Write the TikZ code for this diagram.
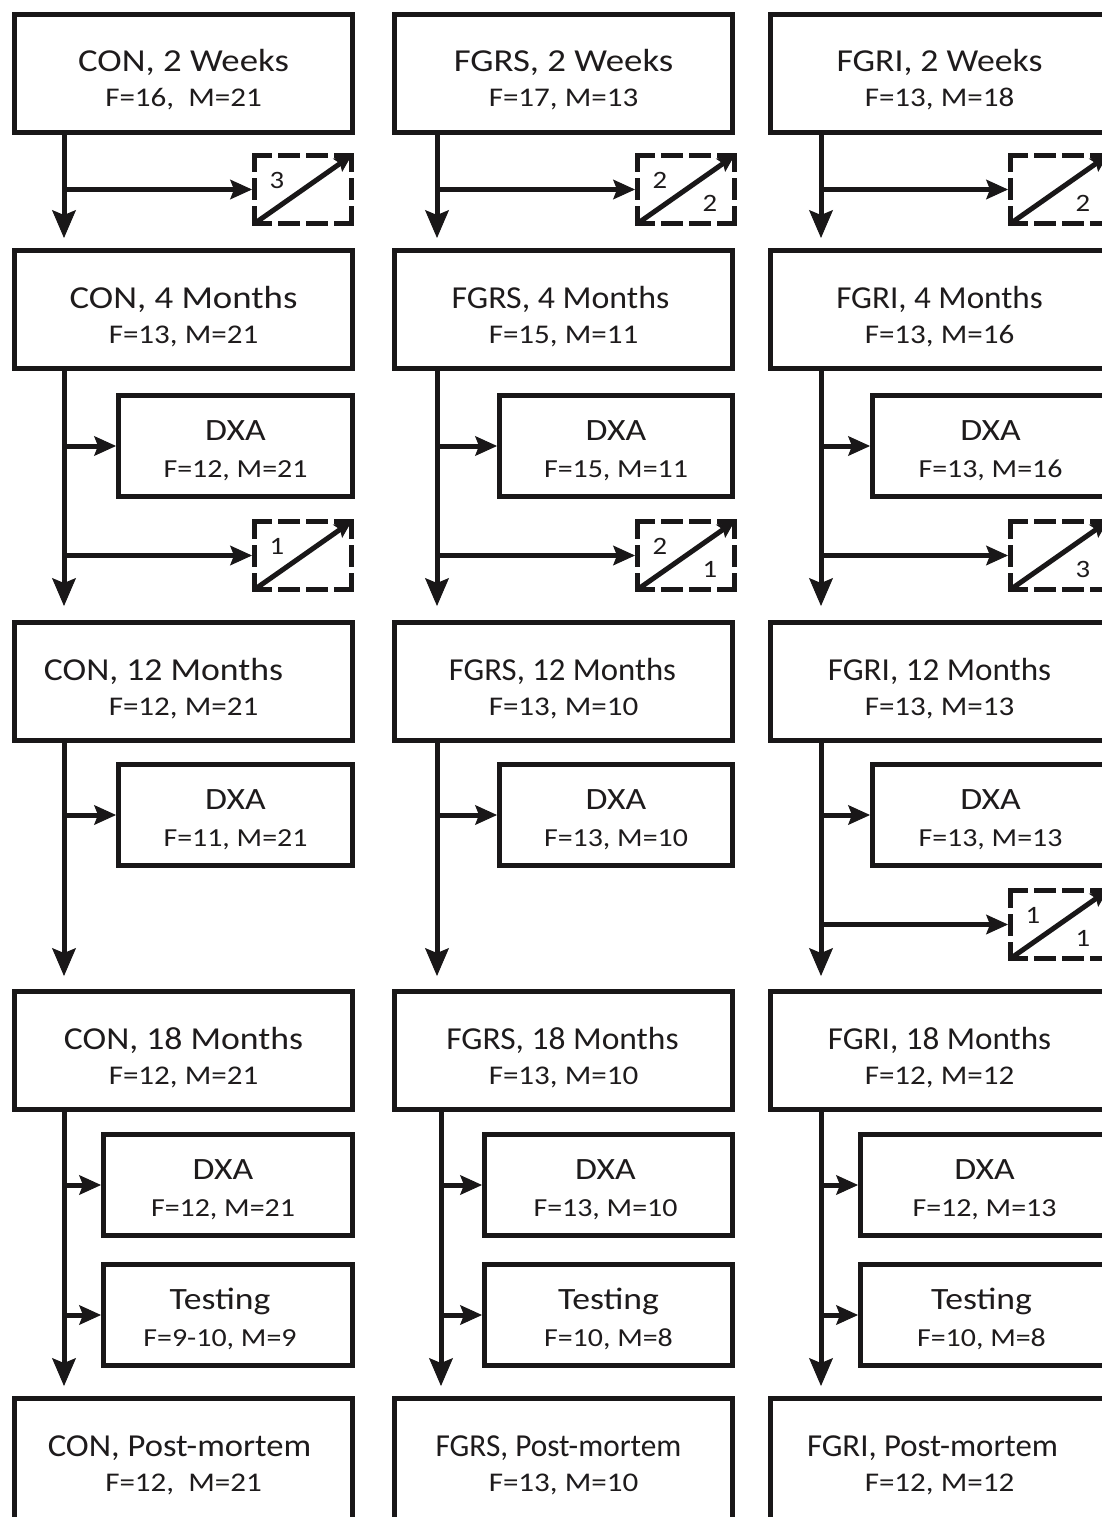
\documentclass[tikz,border=0pt]{standalone}
\usepackage{fontspec}
\usepackage{graphicx}
\setmainfont{Carlito}[FakeStretch=1.15]
\usetikzlibrary{arrows.meta}
\definecolor{txt}{RGB}{30,27,28}
\definecolor{ln}{RGB}{25,23,24}
\tikzset{
  mainbox/.style={draw=ln, line width=5pt, rectangle, minimum width=338pt, minimum height=118pt, inner sep=0pt, anchor=north west},
  tallbox/.style={mainbox, minimum height=160pt},
  subbox/.style={draw=ln, line width=5pt, rectangle, minimum height=101pt, inner sep=0pt, anchor=north west},
  dbox/.style={rectangle, minimum width=97pt, minimum height=68pt, inner sep=0pt, outer sep=2.5pt, anchor=north west},
  dh/.style={draw=ln, line width=5pt, line cap=rect, dash pattern=on 15pt off 11pt on 17pt off 11pt on 17pt off 11pt on 15pt off 200pt},
  dv/.style={draw=ln, line width=5pt, line cap=rect, dash pattern=on 14.5pt off 11pt on 17pt off 11pt on 14.5pt off 200pt},
  ttl/.style={font=\fontsize{32}{36}\selectfont, inner sep=0pt, anchor=base, text=txt},
  sbt/.style={font=\fontsize{27}{30}\selectfont, inner sep=0pt, anchor=base, text=txt},
  dtl/.style={font=\fontsize{31}{34}\selectfont, inner sep=0pt, anchor=base, text=txt},
  dsb/.style={font=\fontsize{26}{30}\selectfont, inner sep=0pt, anchor=base, text=txt},
  num/.style={font=\fontsize{25}{28}\selectfont, inner sep=0pt, text=txt},
  varr/.style={draw=ln, line width=5pt, -{Stealth[length=28pt,width=24pt,inset=5pt,line width=1pt]}},
  harr/.style={draw=ln, line width=5pt, -{Stealth[length=22pt,width=20pt,inset=4pt,line width=1pt]}},
  diag/.style={draw=ln, line width=5pt, -{Stealth[length=17pt,width=16pt,inset=3pt,line width=1pt]}},
}
\newcommand{\MBox}[8]{% name, left, top, title, sub, style, title x-scale, title x-shift
  \node[#6] (#1) at (#2,#3) {};
  \node[ttl] (#1t) at (#2+171.5+#8,#3+60) {\scalebox{#7}[1]{#4}};
  \node[sbt] (#1s) at (#2+171.5,#3+95) {#5};}
\newcommand{\SBox}[7]{% name, left, top, outer width, title, sub, text x-shift
  \node[subbox, minimum width=#4pt-5pt] (#1) at (#2,#3) {};
  \node[dtl] (#1t) at (#2+#4/2+#7,#3+47) {#5};
  \node[dsb] (#1s) at (#2+#4/2+#7,#3+84) {#6};}
\newcommand{\DBox}[3]{%
  \node[dbox] (#1) at (#2,#3) {};
  \coordinate (#1nw) at ([xshift=2.5pt,yshift=-2.5pt]#1.north west);
  \coordinate (#1ne) at ([xshift=-2.5pt,yshift=-2.5pt]#1.north east);
  \coordinate (#1sw) at ([xshift=2.5pt,yshift=2.5pt]#1.south west);
  \coordinate (#1se) at ([xshift=-2.5pt,yshift=2.5pt]#1.south east);
  \draw[dh] (#1nw) -- (#1ne);
  \draw[dh] (#1sw) -- (#1se);
  \draw[dv] (#1nw) -- (#1sw);
  \draw[dv] (#1ne) -- (#1se);
  \draw[diag] (#1sw) -- (#1ne);}
\newcommand{\NumTL}[2]{\node[num] (#1tl) at ([xshift=25pt,yshift=-27pt]#1.north west) {#2};}
\newcommand{\NumBR}[2]{\node[num] (#1br) at ([xshift=-27pt,yshift=23pt]#1.south east) {#2};}
\begin{document}
\begin{tikzpicture}[x=1pt,y=-1pt]
\useasboundingbox (0,0) rectangle (1102,1517);
\clip (0,0) rectangle (1102,1517);
\fill[white] (0,0) rectangle (1102,1517);
% ---------------- column 1 : CON ----------------
\MBox{a1}{12}{12}{CON, 2 Weeks}{F=16,\ \ M=21}{mainbox}{1}{0}
\MBox{a2}{12}{248}{CON, 4 Months}{F=13, M=21}{mainbox}{1}{0}
\MBox{a3}{12}{620}{CON, 12 Months}{F=12, M=21}{mainbox}{0.97}{-20}
\MBox{a4}{12}{989}{CON, 18 Months}{F=12, M=21}{mainbox}{0.97}{0}
\MBox{a5}{12}{1396}{CON, Post-mortem}{F=12,\ \ M=21}{tallbox}{0.94}{-4}
\SBox{ad2}{116}{393}{239}{DXA}{F=12, M=21}{0}
\SBox{ad3}{116}{762}{239}{DXA}{F=11, M=21}{0}
\SBox{ad4}{101}{1132}{254}{DXA}{F=12, M=21}{-5}
\SBox{at4}{101}{1262}{254}{Testing}{F=9-10, M=9}{-8}
\DBox{ax1}{252}{153}
\NumTL{ax1}{3}
\DBox{ax2}{252}{519}
\NumTL{ax2}{1}
% ---------------- column 2 : FGRS ----------------
\MBox{b1}{392}{12}{FGRS, 2 Weeks}{F=17, M=13}{mainbox}{1}{0}
\MBox{b2}{392}{248}{FGRS, 4 Months}{F=15, M=11}{mainbox}{0.92}{-3}
\MBox{b3}{392}{620}{FGRS, 12 Months}{F=13, M=10}{mainbox}{0.89}{-1}
\MBox{b4}{392}{989}{FGRS, 18 Months}{F=13, M=10}{mainbox}{0.91}{-1}
\MBox{b5}{392}{1396}{FGRS, Post-mortem}{F=13, M=10}{tallbox}{0.85}{-5}
\SBox{bd2}{497}{393}{238}{DXA}{F=15, M=11}{0}
\SBox{bd3}{497}{762}{238}{DXA}{F=13, M=10}{0}
\SBox{bd4}{482}{1132}{253}{DXA}{F=13, M=10}{-3}
\SBox{bt4}{482}{1262}{253}{Testing}{F=10, M=8}{0}
\DBox{bx1}{635}{153}
\NumTL{bx1}{2}
\NumBR{bx1}{2}
\DBox{bx2}{635}{519}
\NumTL{bx2}{2}
\NumBR{bx2}{1}
% ---------------- column 3 : FGRI ----------------
\MBox{c1}{768}{12}{FGRI, 2 Weeks}{F=13, M=18}{mainbox}{0.97}{0}
\MBox{c2}{768}{248}{FGRI, 4 Months}{F=13, M=16}{mainbox}{0.90}{0}
\MBox{c3}{768}{620}{FGRI, 12 Months}{F=13, M=13}{mainbox}{0.90}{0}
\MBox{c4}{768}{989}{FGRI, 18 Months}{F=12, M=12}{mainbox}{0.90}{0}
\MBox{c5}{768}{1396}{FGRI, Post-mortem}{F=12, M=12}{tallbox}{0.89}{-7}
\SBox{cd2}{870}{393}{241}{DXA}{F=13, M=16}{0}
\SBox{cd3}{870}{762}{241}{DXA}{F=13, M=13}{0}
\SBox{cd4}{858}{1132}{253}{DXA}{F=12, M=13}{0}
\SBox{ct4}{858}{1262}{253}{Testing}{F=10, M=8}{-3}
\DBox{cx1}{1008}{153}
\NumBR{cx1}{2}
\DBox{cx2}{1008}{519}
\NumBR{cx2}{3}
\DBox{cx3}{1008}{888}
\NumTL{cx3}{1}
\NumBR{cx3}{1}
% ---------------- vertical lines ----------------
\coordinate (av) at (64,0);
\coordinate (bv) at (437,0);
\coordinate (bw) at (441,0);
\coordinate (cv) at (821,0);
% column 1
\draw[varr, shorten >=10pt] (a1.south -| av) -- (a2.north -| av);
\draw[varr, shorten >=14pt] (a2.south -| av) -- (a3.north -| av);
\draw[varr, shorten >=13pt] (a3.south -| av) -- (a4.north -| av);
\draw[varr, shorten >=10pt] (a4.south -| av) -- (a5.north -| av);
\draw[harr] (ax1.west -| av) -- (ax1.west);
\draw[harr] (ad2.west -| av) -- (ad2.west);
\draw[harr] (ax2.west -| av) -- (ax2.west);
\draw[harr] (ad3.west -| av) -- (ad3.west);
\draw[harr] (ad4.west -| av) -- (ad4.west);
\draw[harr] (at4.west -| av) -- (at4.west);
% column 2
\draw[varr, shorten >=10pt] (b1.south -| bv) -- (b2.north -| bv);
\draw[varr, shorten >=14pt] (b2.south -| bv) -- (b3.north -| bv);
\draw[varr, shorten >=13pt] (b3.south -| bv) -- (b4.north -| bv);
\draw[varr, shorten >=10pt] (b4.south -| bw) -- (b5.north -| bw);
\draw[harr] (bx1.west -| bv) -- (bx1.west);
\draw[harr] (bd2.west -| bv) -- (bd2.west);
\draw[harr] (bx2.west -| bv) -- (bx2.west);
\draw[harr] (bd3.west -| bv) -- (bd3.west);
\draw[harr] (bd4.west -| bw) -- (bd4.west);
\draw[harr] (bt4.west -| bw) -- (bt4.west);
% column 3
\draw[varr, shorten >=10pt] (c1.south -| cv) -- (c2.north -| cv);
\draw[varr, shorten >=14pt] (c2.south -| cv) -- (c3.north -| cv);
\draw[varr, shorten >=13pt] (c3.south -| cv) -- (c4.north -| cv);
\draw[varr, shorten >=10pt] (c4.south -| cv) -- (c5.north -| cv);
\draw[harr] (cx1.west -| cv) -- (cx1.west);
\draw[harr] (cd2.west -| cv) -- (cd2.west);
\draw[harr] (cx2.west -| cv) -- (cx2.west);
\draw[harr] (cd3.west -| cv) -- (cd3.west);
\draw[harr] (cx3.west -| cv) -- (cx3.west);
\draw[harr] (cd4.west -| cv) -- (cd4.west);
\draw[harr] (ct4.west -| cv) -- (ct4.west);
\end{tikzpicture}
\end{document}
